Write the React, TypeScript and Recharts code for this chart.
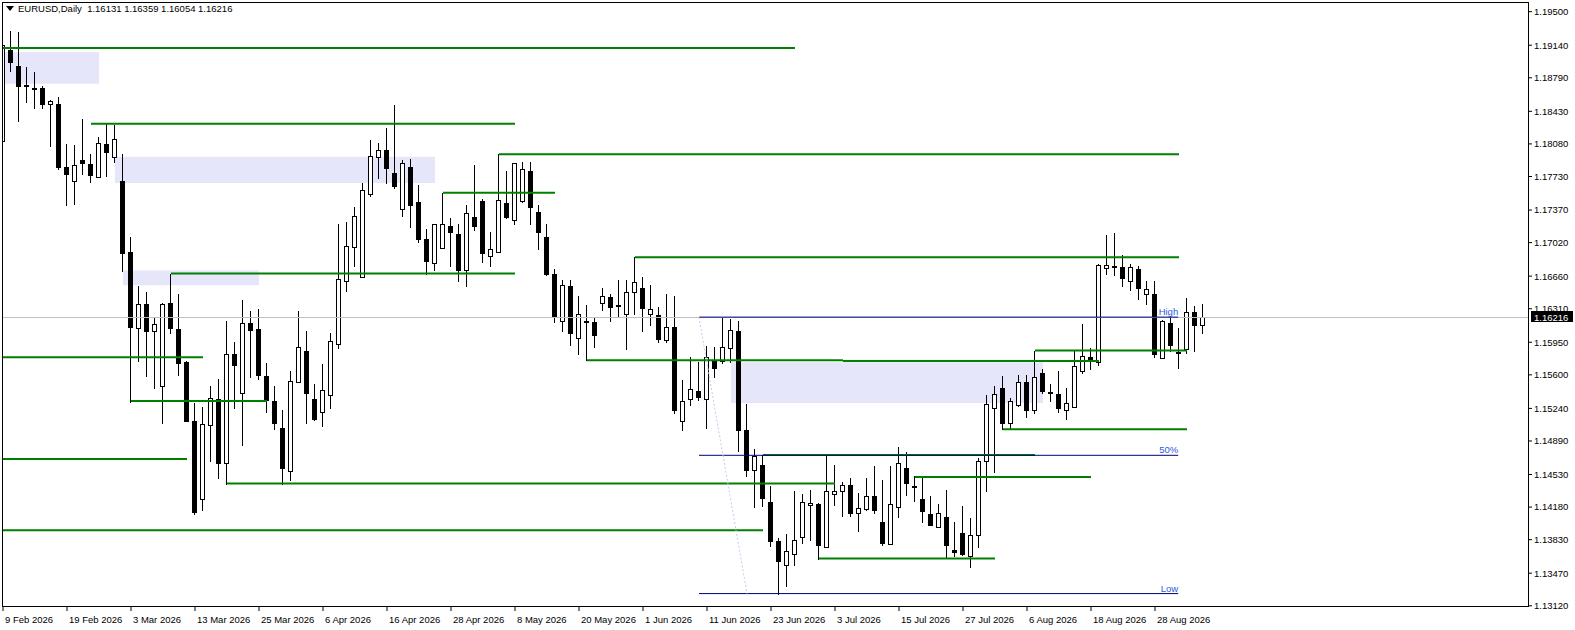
import React from "react";
import { ComposedChart, Bar, XAxis, YAxis, ReferenceLine, ReferenceArea } from "recharts";

// EURUSD daily candles (bar 0 = 9 Feb 2026)
const OPEN = [
  1.18108, 1.19089, 1.18914, 1.1871, 1.1868, 1.18684, 1.18504, 1.18513, 1.17828, 1.17686,
  1.17907, 1.17866, 1.17724, 1.18074, 1.17941, 1.17678, 1.16918, 1.16103, 1.16366, 1.16074,
  1.15477, 1.16375, 1.16095, 1.1574, 1.15109, 1.14266, 1.15059, 1.15343, 1.1465, 1.15819,
  1.15406, 1.16153, 1.16095, 1.1559, 1.15322, 1.15026, 1.14571, 1.15519, 1.15861, 1.15339,
  1.15197, 1.15385, 1.15936, 1.16613, 1.16968, 1.16654, 1.17544, 1.17941, 1.18012, 1.17765,
  1.17377, 1.17836, 1.1746, 1.17055, 1.16805, 1.16959, 1.17202, 1.1711, 1.1673, 1.17293,
  1.17469, 1.16876, 1.16918, 1.17448, 1.17264, 1.17469, 1.17786, 1.17344, 1.17076, 1.1668,
  1.16178, 1.1655, 1.15999, 1.16182, 1.16166, 1.16375, 1.16437, 1.16345, 1.16249, 1.16492,
  1.16533, 1.16258, 1.16241, 1.15978, 1.16112, 1.15101, 1.15343, 1.15423, 1.15343, 1.15757,
  1.15748, 1.15886, 1.16074, 1.15005, 1.14579, 1.14629, 1.14232, 1.13819, 1.13556, 1.13681,
  1.13857, 1.14203, 1.14216, 1.13752, 1.14316, 1.14349, 1.14412, 1.1412, 1.14161, 1.14295,
  1.14015, 1.13786, 1.14182, 1.146, 1.14405, 1.14266, 1.14111, 1.13965, 1.14078, 1.13723,
  1.13898, 1.1366, 1.13882, 1.14671, 1.15239, 1.15464, 1.1508, 1.15276, 1.15519, 1.15218,
  1.15623, 1.15418, 1.15393, 1.15218, 1.1526, 1.15644, 1.1579, 1.1574, 1.16751, 1.1677,
  1.16763, 1.16604, 1.16738, 1.16471, 1.16467, 1.15778, 1.16153, 1.15845, 1.15874, 1.1627,
  1.16131,
];
const HIGH = [
  1.19277, 1.1929, 1.19277, 1.18901, 1.18847, 1.18705, 1.18555, 1.1858, 1.18078, 1.18066,
  1.1835, 1.17974, 1.18149, 1.18296, 1.18287, 1.1797, 1.17076, 1.1655, 1.16492, 1.16216,
  1.16375, 1.16688, 1.16467, 1.15745, 1.15297, 1.15256, 1.15477, 1.1556, 1.16174, 1.15957,
  1.16408, 1.16291, 1.16312, 1.15727, 1.15477, 1.15218, 1.15636, 1.16283, 1.1607, 1.15498,
  1.15719, 1.16053, 1.17222, 1.17239, 1.17398, 1.17657, 1.1812, 1.18087, 1.18246, 1.18496,
  1.17907, 1.1792, 1.17636, 1.17168, 1.17222, 1.17556, 1.17281, 1.17218, 1.17419, 1.17857,
  1.1749, 1.17139, 1.1797, 1.17786, 1.17878, 1.17886, 1.17886, 1.17419, 1.17218, 1.16738,
  1.16617, 1.16617, 1.1645, 1.16354, 1.16208, 1.16529, 1.16467, 1.16617, 1.16617, 1.16863,
  1.16654, 1.16563, 1.16333, 1.16467, 1.1645, 1.15548, 1.1579, 1.15736, 1.15907, 1.15894,
  1.16216, 1.16199, 1.16174, 1.15289, 1.14809, 1.14738, 1.14404, 1.13848, 1.1389, 1.14349,
  1.1432, 1.14362, 1.14224, 1.14746, 1.14633, 1.14454, 1.14487, 1.14328, 1.14495, 1.14621,
  1.14466, 1.14621, 1.1483, 1.14767, 1.14512, 1.14495, 1.14295, 1.14216, 1.14362, 1.14015,
  1.14195, 1.14065, 1.14704, 1.15381, 1.15477, 1.1559, 1.15352, 1.15602, 1.15602, 1.15861,
  1.15665, 1.15506, 1.15636, 1.15464, 1.15861, 1.16145, 1.15886, 1.16792, 1.17105, 1.17118,
  1.16884, 1.16792, 1.16771, 1.16604, 1.16604, 1.16187, 1.16229, 1.16103, 1.16425, 1.16341,
  1.16359,
];
const LOW = [
  1.1808, 1.18859, 1.18329, 1.18525, 1.18471, 1.18471, 1.18053, 1.17815, 1.17427, 1.1744,
  1.17753, 1.17669, 1.1772, 1.17732, 1.17886, 1.16717, 1.1531, 1.15748, 1.1559, 1.15464,
  1.1508, 1.16049, 1.15602, 1.15101, 1.14111, 1.14153, 1.14671, 1.14495, 1.14433, 1.15247,
  1.1485, 1.15581, 1.1556, 1.15205, 1.15017, 1.14433, 1.14466, 1.15519, 1.15088, 1.15114,
  1.15051, 1.15247, 1.15886, 1.165, 1.16771, 1.16646, 1.17523, 1.17711, 1.17661, 1.17607,
  1.17302, 1.17189, 1.17022, 1.16688, 1.1673, 1.16959, 1.16771, 1.16613, 1.16554, 1.17156,
  1.16813, 1.16771, 1.16918, 1.17285, 1.17222, 1.17452, 1.17218, 1.16947, 1.16667, 1.16166,
  1.16074, 1.15924, 1.15823, 1.15757, 1.15894, 1.163, 1.16174, 1.16229, 1.15874, 1.16258,
  1.16074, 1.16132, 1.15957, 1.15949, 1.15185, 1.15005, 1.15276, 1.15331, 1.1503, 1.15573,
  1.15727, 1.1574, 1.14779, 1.14516, 1.14182, 1.14195, 1.13765, 1.13251, 1.13335, 1.13556,
  1.13794, 1.13827, 1.13627, 1.13752, 1.14203, 1.14086, 1.14086, 1.13919, 1.14149, 1.1412,
  1.13777, 1.13786, 1.1407, 1.14308, 1.14245, 1.14024, 1.13986, 1.13965, 1.13639, 1.13652,
  1.13669, 1.13535, 1.13752, 1.14349, 1.14558, 1.15017, 1.15017, 1.15268, 1.15151, 1.15185,
  1.15406, 1.15318, 1.15205, 1.15122, 1.1526, 1.15623, 1.15665, 1.15707, 1.16688, 1.16675,
  1.1655, 1.16508, 1.16416, 1.16362, 1.1579, 1.15778, 1.15853, 1.15673, 1.1584, 1.15853,
  1.16054,
];
const CLOSE = [
  1.19139, 1.18964, 1.18705, 1.187, 1.1867, 1.18513, 1.18538, 1.17828, 1.17761, 1.17857,
  1.1787, 1.17744, 1.18087, 1.17995, 1.18129, 1.16909, 1.16116, 1.16366, 1.16074, 1.16145,
  1.16366, 1.16103, 1.15727, 1.15109, 1.14128, 1.15068, 1.15352, 1.14654, 1.15819, 1.15707,
  1.16153, 1.16082, 1.15594, 1.15331, 1.1508, 1.146, 1.15539, 1.15903, 1.15402, 1.15122,
  1.15435, 1.15965, 1.16625, 1.16989, 1.17302, 1.17586, 1.17953, 1.18012, 1.17824, 1.17627,
  1.1787, 1.17427, 1.1706, 1.16826, 1.17222, 1.17218, 1.17135, 1.16721, 1.17335, 1.17197,
  1.16909, 1.16947, 1.17473, 1.17293, 1.17878, 1.17815, 1.17398, 1.17135, 1.1668, 1.16229,
  1.16563, 1.16049, 1.16258, 1.16175, 1.16032, 1.16446, 1.16325, 1.1634, 1.16492, 1.16596,
  1.1632, 1.16312, 1.1599, 1.16116, 1.15226, 1.15322, 1.15443, 1.15364, 1.1579, 1.15673,
  1.15894, 1.16082, 1.15005, 1.14579, 1.14725, 1.14278, 1.13819, 1.13598, 1.1371, 1.13827,
  1.14237, 1.14224, 1.13777, 1.14349, 1.14358, 1.14412, 1.1412, 1.14174, 1.14295, 1.14149,
  1.13794, 1.14216, 1.1465, 1.14441, 1.14395, 1.14141, 1.13986, 1.1412, 1.13777, 1.13702,
  1.13673, 1.13877, 1.14671, 1.15289, 1.15393, 1.15088, 1.15322, 1.15527, 1.15226, 1.15581,
  1.15427, 1.1541, 1.15247, 1.15297, 1.15698, 1.15798, 1.15748, 1.1678, 1.16784, 1.1676,
  1.16638, 1.16763, 1.16533, 1.16521, 1.15823, 1.16174, 1.15924, 1.15835, 1.1627, 1.16132,
  1.16216,
];

const DATE_TICKS = [
  "9 Feb 2026", "19 Feb 2026", "3 Mar 2026", "13 Mar 2026", "25 Mar 2026", "6 Apr 2026",
  "16 Apr 2026", "28 Apr 2026", "8 May 2026", "20 May 2026", "1 Jun 2026", "11 Jun 2026",
  "23 Jun 2026", "3 Jul 2026", "15 Jul 2026", "27 Jul 2026", "6 Aug 2026", "18 Aug 2026",
  "28 Aug 2026",
];
const BARS_PER_TICK = 8;

const PRICE_TICKS = [
  1.195, 1.1914, 1.1879, 1.1843, 1.1808, 1.1773, 1.1737, 1.1702, 1.1666, 1.1631,
  1.1595, 1.156, 1.1524, 1.1489, 1.1453, 1.1418, 1.1383, 1.1347, 1.1312,
];

const SYMBOL = "EURUSD,Daily";
const LAST_OHLC = [1.16131, 1.16359, 1.16054, 1.16216];
const LAST_PRICE = 1.16216;

// visible window (bar units / price units)
const X_MIN = -0.125;
const X_MAX = 190.75;
const Y_MIN = 1.13107;
const Y_MAX = 1.19604;

// green support / resistance lines: [from bar, to bar, price]
const LEVELS: [number, number, number][] = [
  [X_MIN, 99, 1.1911],
  [11, 64, 1.18296],
  [62, 147, 1.1797],
  [55, 69, 1.17556],
  [21, 64, 1.16688],
  [79, 147, 1.16863],
  [X_MIN, 25, 1.1579],
  [73, 105, 1.15757],
  [105, 137, 1.15748],
  [129, 148, 1.15861],
  [16, 33, 1.15318],
  [125, 148, 1.15017],
  [95, 129, 1.14738],
  [X_MIN, 23, 1.14696],
  [28, 104, 1.14433],
  [114, 136, 1.14504],
  [X_MIN, 95, 1.13932],
  [102, 124, 1.13627],
];

// lavender zones: [from bar, to bar, low, high]
const ZONES: [number, number, number, number][] = [
  [0.25, 12, 1.18726, 1.19068],
  [14, 54, 1.17661, 1.17941],
  [15, 32, 1.16563, 1.16721],
  [91, 130, 1.15297, 1.15736],
];

// fibo retracement
const FIB_FROM = 87;
const FIB_TO = 146.9;
const FIB_LEVELS: [string, number][] = [
  ["High", 1.1622],
  ["50%", 1.14736],
  ["Low", 1.13251],
];
const FIB_TREND: [number, number][] = [
  [87, 1.1622],
  [93, 1.13251],
];

const FONT = "'Liberation Sans', Arial, sans-serif";
const GREEN = "#008000";
const NAVY = "#000080";

const candles = OPEN.map((o, i) => ({
  i,
  o,
  h: HIGH[i],
  l: LOW[i],
  c: CLOSE[i],
  range: [LOW[i], HIGH[i]],
}));

function Candle(props: any) {
  const { x, y, width, height, payload } = props;
  if (payload == null || x == null) return null;
  const { o, h, l, c } = payload;
  const top = Math.min(y, y + height);
  const span = Math.abs(height);
  const py = (p: number) => (h === l ? top : top + ((h - p) / (h - l)) * span);
  const col = Math.floor(x + width / 2);
  const wx = col + 0.5;
  const bt = Math.round(py(Math.max(o, c)));
  const bb = Math.round(py(Math.min(o, c)));
  const bull = c >= o;
  return (
    <g shapeRendering="crispEdges">
      <line x1={wx} x2={wx} y1={Math.round(py(h))} y2={Math.round(py(l)) + 1} stroke="#000" strokeWidth={1} />
      {bb - bt < 2 ? (
        <rect x={col - 2} y={bt} width={5} height={2} fill="#000" />
      ) : (
        <rect
          x={col - 1.5}
          y={bt + 0.5}
          width={4}
          height={bb - bt}
          fill={bull ? "#fff" : "#000"}
          stroke="#000"
          strokeWidth={1}
        />
      )}
    </g>
  );
}

function DateTick(props: any) {
  const { x, y, payload } = props;
  const label = DATE_TICKS[Math.round(payload.value / BARS_PER_TICK)];
  return (
    <text x={x + 2} y={y + 9.5} fontSize={9.5} fontFamily={FONT} fill="#000" textAnchor="start">
      {label}
    </text>
  );
}

function PriceTick(props: any) {
  const { x, y, payload } = props;
  return (
    <text x={x} y={y + 3.4} fontSize={9.5} fontFamily={FONT} fill="#000" textAnchor="start">
      {Number(payload.value).toFixed(5)}
    </text>
  );
}

function PriceTag(props: any) {
  const vb = props.viewBox || {};
  const x = vb.x + vb.width;
  const y = vb.y;
  return (
    <g>
      <rect x={x + 2} y={Math.round(y) - 6} width={42} height={11} fill="#000" />
      <text x={x + 5} y={y + 3.4} fontSize={9.5} fontFamily={FONT} fill="#fff">
        {LAST_PRICE.toFixed(5)}
      </text>
    </g>
  );
}

function FibLabel(props: any) {
  const vb = props.viewBox || {};
  return (
    <text
      x={vb.x + vb.width}
      y={vb.y - 2}
      fontSize={9.5}
      fontFamily={FONT}
      fill="#2a5bd7"
      textAnchor="end"
    >
      {props.text}
    </text>
  );
}

export default function App() {
  const xTicks = DATE_TICKS.map((_, j) => j * BARS_PER_TICK);
  return (
    <div style={{ position: "fixed", left: 0, top: 0, width: 1575, height: 630, background: "#fff" }}>
      <ComposedChart
        width={1575}
        height={630}
        data={candles}
        margin={{ top: 2, right: 0, bottom: 0, left: 2 }}
      >
        <XAxis
          dataKey="i"
          type="number"
          domain={[X_MIN, X_MAX]}
          allowDataOverflow
          ticks={xTicks}
          interval={0}
          height={23}
          tickSize={4}
          axisLine={false}
          tickLine={{ stroke: "#000" }}
          tick={<DateTick />}
        />
        <YAxis
          orientation="right"
          type="number"
          domain={[Y_MIN, Y_MAX]}
          allowDataOverflow
          ticks={PRICE_TICKS}
          interval={0}
          width={46}
          tickSize={3}
          axisLine={false}
          tickLine={{ stroke: "#000" }}
          tick={<PriceTick />}
        />
        {ZONES.map(([a, b, lo, hi], k) => (
          <ReferenceArea
            key={"z" + k}
            x1={a}
            x2={b}
            y1={lo}
            y2={hi}
            fill="#e6e6fa"
            fillOpacity={1}
            stroke="none"
          />
        ))}
        <ReferenceLine y={LAST_PRICE} stroke="#c0c0c0" strokeWidth={1} label={<PriceTag />} />
        <Bar dataKey="range" barSize={5} shape={<Candle />} isAnimationActive={false} />
        {LEVELS.map(([a, b, p], k) => (
          <ReferenceLine
            key={"l" + k}
            segment={[{ x: a, y: p }, { x: b, y: p }]}
            stroke={GREEN}
            strokeWidth={2}
          />
        ))}
        {FIB_LEVELS.map(([name, p]) => (
          <ReferenceLine
            key={name}
            segment={[{ x: FIB_FROM, y: p }, { x: FIB_TO, y: p }]}
            stroke={NAVY}
            strokeWidth={1}
            label={<FibLabel text={name} />}
          />
        ))}
        <ReferenceLine
          segment={FIB_TREND.map(([x, y]) => ({ x, y }))}
          stroke="#c8c8ee"
          strokeWidth={1}
          strokeDasharray="2 2"
        />
      </ComposedChart>
      <div
        style={{
          position: "absolute",
          left: 2,
          top: 2,
          width: 1527,
          height: 605,
          border: "1px solid #000",
          boxSizing: "border-box",
          pointerEvents: "none",
        }}
      />
      <svg style={{ position: "absolute", left: 6, top: 6 }} width={9} height={6}>
        <polygon points="0,0 8,0 4,5" fill="#000" />
      </svg>
      <div
        style={{
          position: "absolute",
          left: 18,
          top: 3,
          fontFamily: FONT,
          fontSize: 9.5,
          lineHeight: "12px",
          whiteSpace: "pre",
          color: "#000",
        }}
      >
        {SYMBOL + "  " + LAST_OHLC.map((v) => v.toFixed(5)).join(" ")}
      </div>
    </div>
  );
}
